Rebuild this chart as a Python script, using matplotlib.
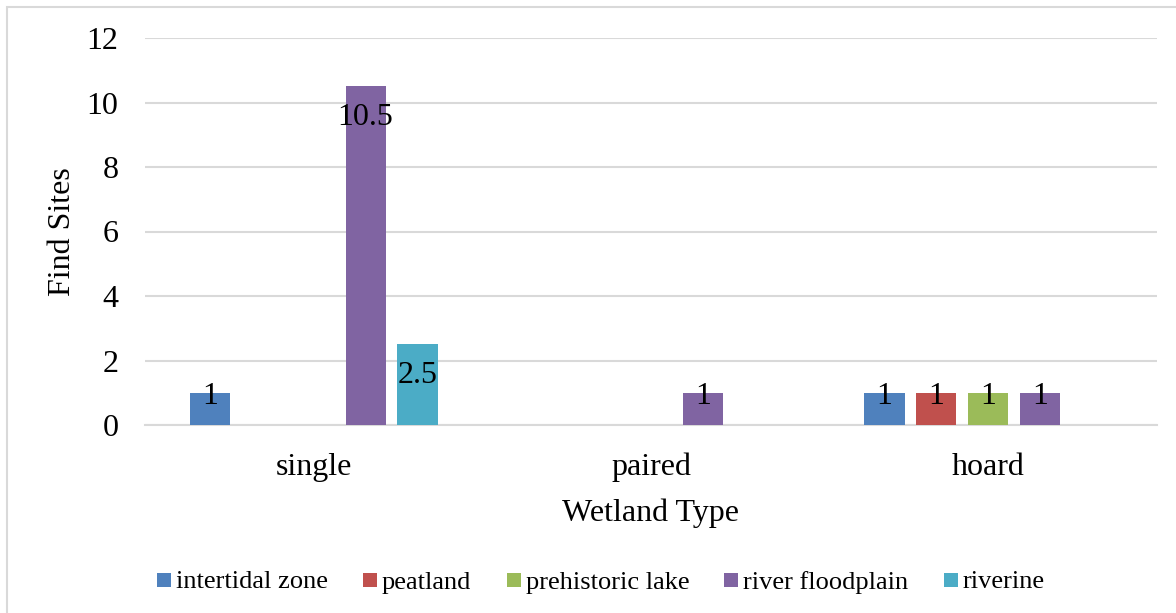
import matplotlib
matplotlib.use("Agg")
import matplotlib.pyplot as plt
from matplotlib.patches import Rectangle
import numpy as np

categories = ["single", "paired", "hoard"]
series_names = ["intertidal zone", "peatland", "prehistoric lake", "river floodplain", "riverine"]
intertidal_zone = [1, None, 1]
peatland = [None, None, 1]
prehistoric_lake = [None, None, 1]
river_floodplain = [10.5, 1, 1]
riverine = [2.5, None, None]
series_values = [intertidal_zone, peatland, prehistoric_lake, river_floodplain, riverine]
colors = ["#4F81BD", "#C0504D", "#9BBB59", "#8064A2", "#4BACC6"]
y_ticks = [0, 2, 4, 6, 8, 10, 12]

plt.rcParams["font.family"] = ["Liberation Serif", "DejaVu Serif"]

W, H = 1176, 613
fig = plt.figure(figsize=(W / 100, H / 100), dpi=100)
fig.patch.set_facecolor("white")

# light frame round the chart area
fig.add_artist(Rectangle((7 / W, -0.05), 1.2, 1 - 7 / H + 0.05, transform=fig.transFigure,
                         fill=False, edgecolor="#D9D9D9", linewidth=1.5))

ax = fig.add_axes([145 / W, 1 - 425 / H, 1012 / W, 387 / H])
x = np.arange(len(categories))
slot = 0.154
bar_w = 0.119
for i, (name, vals, col) in enumerate(zip(series_names, series_values, colors)):
    off = (i - 2) * slot
    xs = [xi + off for xi, v in zip(x, vals) if v is not None]
    vs = [v for v in vals if v is not None]
    ax.bar(xs, vs, width=bar_w, color=col, label=name, zorder=3)
    for xx, v in zip(xs, vs):
        ly = max(v - 31 / 32.25, 28 / 32.25)
        ax.text(xx, ly, f"{v:g}", ha="center", va="center", fontsize=23, color="black", zorder=4)

ax.set_xlim(-0.5, 2.5)
ax.set_ylim(0, 12)
ax.set_yticks(y_ticks)
ax.set_yticklabels([str(t) for t in y_ticks], fontsize=23)
ax.set_xticks(x)
ax.set_xticklabels(categories, fontsize=23)
ax.tick_params(axis="both", length=0)
ax.tick_params(axis="y", pad=19)
ax.tick_params(axis="x", pad=20)
ax.grid(axis="y", color="#D9D9D9", linewidth=1.5, zorder=0)
ax.set_axisbelow(True)
for s in ["top", "right", "left"]:
    ax.spines[s].set_visible(False)
ax.spines["bottom"].set_color("#D9D9D9")
ax.spines["bottom"].set_linewidth(1.5)

ax.set_xlabel("Wetland Type", fontsize=23, labelpad=12)
ax.set_ylabel("Find Sites", fontsize=23, labelpad=7)

# legend row: colour key followed by series name
legend_x = [157, 363, 507, 724, 944]
legend_y = 1 - 580 / H
sq = 14
for lx, name, col in zip(legend_x, series_names, colors):
    fig.add_artist(Rectangle((lx / W, legend_y - sq / 2 / H), sq / W, sq / H,
                             transform=fig.transFigure, facecolor=col, edgecolor="none"))
    fig.text((lx + sq + 5) / W, legend_y, name, fontsize=19, ha="left", va="center_baseline")

fig.savefig("out.png", dpi=100, facecolor="white")
